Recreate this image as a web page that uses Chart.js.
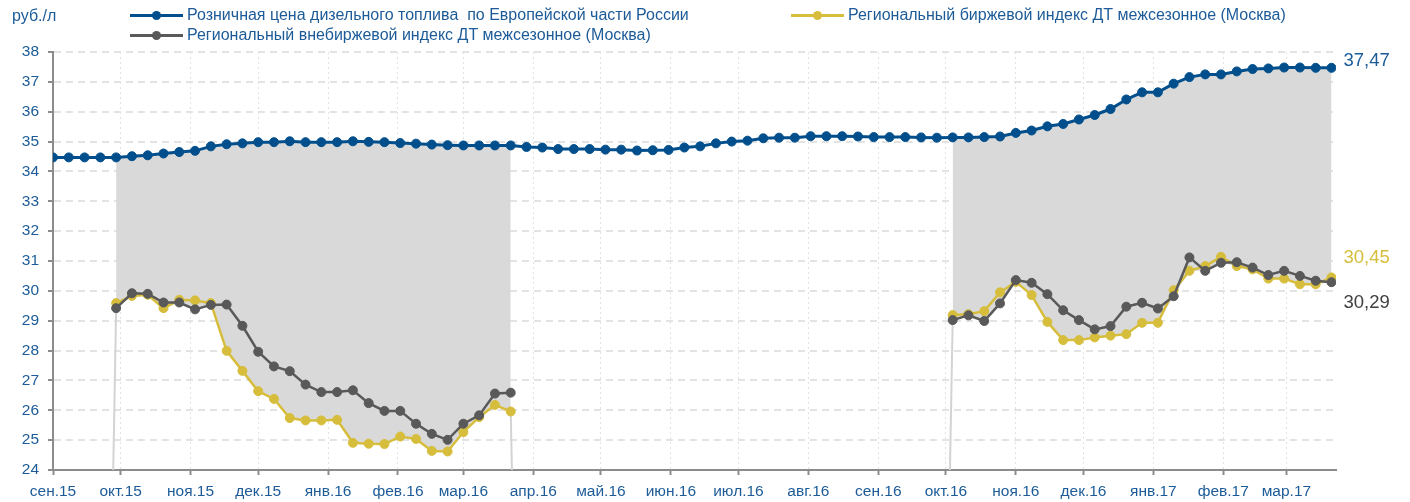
<!DOCTYPE html>
<html>
<head>
<meta charset="utf-8">
<script src="https://cdn.jsdelivr.net/npm/chart.js@4.4.1/dist/chart.umd.min.js"></script>
<style>
  html, body { margin: 0; padding: 0; background: #fff; }
  #wrap { position: relative; width: 1410px; height: 502px; font-family: "Liberation Sans", Arial, sans-serif; }
  #chart { position: absolute; left: 0; top: 0; }
  .unit { position: absolute; left: 12px; top: 7px; font-size: 16px; line-height: 18px; color: #1c5b98; }
  .leg { position: absolute; font-size: 16px; line-height: 18px; color: #1c5b98; white-space: pre; }
  .leg i { position: absolute; left: -57px; top: 7.5px; width: 53px; height: 3px; }
  .leg b { position: absolute; left: -35.5px; top: 4.5px; width: 9px; height: 9px; border-radius: 50%; }
</style>
</head>
<body>
<div id="wrap">
  <canvas id="chart" width="1410" height="502"></canvas>
  <div class="unit">руб./л</div>
  <div class="leg" style="left:187px;top:6px;"><i style="background:#004f8c"></i><b style="background:#004f8c"></b>Розничная цена дизельного топлива  по Европейской части России</div>
  <div class="leg" style="left:848px;top:6px;"><i style="background:#d6be3c"></i><b style="background:#d6be3c"></b>Региональный биржевой индекс ДТ межсезонное (Москва)</div>
  <div class="leg" style="left:187px;top:26px;"><i style="background:#595959"></i><b style="background:#595959"></b>Региональный внебиржевой индекс ДТ межсезонное (Москва)</div>
</div>
<script>
// Weekly observation dates
const weeks = [
  '2015-09-01','2015-09-08','2015-09-15','2015-09-22','2015-09-29','2015-10-06','2015-10-13','2015-10-20','2015-10-27',
  '2015-11-03','2015-11-10','2015-11-17','2015-11-24','2015-12-01','2015-12-08','2015-12-15','2015-12-22','2015-12-29',
  '2016-01-05','2016-01-12','2016-01-19','2016-01-26','2016-02-02','2016-02-09','2016-02-16','2016-02-23',
  '2016-03-01','2016-03-08','2016-03-15','2016-03-22','2016-03-29','2016-04-05','2016-04-12','2016-04-19','2016-04-26',
  '2016-05-03','2016-05-10','2016-05-17','2016-05-24','2016-05-31','2016-06-07','2016-06-14','2016-06-21','2016-06-28',
  '2016-07-05','2016-07-12','2016-07-19','2016-07-26','2016-08-02','2016-08-09','2016-08-16','2016-08-23','2016-08-30',
  '2016-09-06','2016-09-13','2016-09-20','2016-09-27','2016-10-04','2016-10-11','2016-10-18','2016-10-25',
  '2016-11-01','2016-11-08','2016-11-15','2016-11-22','2016-11-29','2016-12-06','2016-12-13','2016-12-20','2016-12-27',
  '2017-01-03','2017-01-10','2017-01-17','2017-01-24','2017-01-31','2017-02-07','2017-02-14','2017-02-21','2017-02-28',
  '2017-03-07','2017-03-14','2017-03-21'
];

// Розничная цена ДТ, Европейская часть России, руб./л
const retail = [
  34.47, 34.47, 34.47, 34.47, 34.47, 34.51, 34.54, 34.60, 34.65,
  34.69, 34.84, 34.91, 34.94, 34.98, 34.98, 35.01, 34.98, 34.98,
  34.98, 35.01, 34.99, 34.98, 34.95, 34.93, 34.90, 34.88,
  34.87, 34.87, 34.87, 34.87, 34.82, 34.80, 34.75, 34.75, 34.75,
  34.73, 34.73, 34.70, 34.71, 34.72, 34.80, 34.84, 34.94, 35.00,
  35.03, 35.11, 35.13, 35.13, 35.18, 35.18, 35.18, 35.17, 35.15,
  35.15, 35.15, 35.14, 35.13, 35.14, 35.14, 35.15, 35.17,
  35.29, 35.37, 35.51, 35.59, 35.74, 35.89, 36.09, 36.41, 36.65,
  36.65, 36.94, 37.16, 37.25, 37.25, 37.35, 37.43, 37.45, 37.48,
  37.48, 37.47, 37.47
];

// Региональный биржевой индекс ДТ межсезонное (Москва)
const exchange = [
  null, null, null, null, 29.59, 29.83, 29.87, 29.42, 29.70,
  29.68, 29.59, 27.99, 27.32, 26.64, 26.38, 25.74, 25.66, 25.66,
  25.68, 24.91, 24.88, 24.87, 25.12, 25.04, 24.64, 24.62,
  25.27, 25.77, 26.18, 25.96, null, null, null, null, null,
  null, null, null, null, null, null, null, null, null,
  null, null, null, null, null, null, null, null, null,
  null, null, null, null, 29.19, 29.22, 29.32, 29.95,
  30.30, 29.86, 28.96, 28.35, 28.35, 28.44, 28.50, 28.55, 28.93,
  28.93, 30.02, 30.67, 30.83, 31.14, 30.83, 30.72, 30.41, 30.41,
  30.22, 30.22, 30.45
];

// Региональный внебиржевой индекс ДТ межсезонное (Москва)
const offExchange = [
  null, null, null, null, 29.42, 29.92, 29.90, 29.61, 29.61,
  29.38, 29.53, 29.54, 28.83, 27.96, 27.47, 27.31, 26.86, 26.61,
  26.61, 26.67, 26.24, 25.98, 25.98, 25.55, 25.21, 25.01,
  25.55, 25.83, 26.56, 26.59, null, null, null, null, null,
  null, null, null, null, null, null, null, null, null,
  null, null, null, null, null, null, null, null, null,
  null, null, null, null, 29.02, 29.18, 28.99, 29.58,
  30.36, 30.27, 29.89, 29.35, 29.02, 28.71, 28.82, 29.47, 29.60,
  29.41, 29.82, 31.12, 30.67, 30.94, 30.96, 30.78, 30.53, 30.67,
  30.50, 30.34, 30.29
];

// Month ticks of the date axis
const tickDates = [
  '2015-09-01','2015-10-01','2015-11-01','2015-12-01','2016-01-01','2016-02-01','2016-03-01',
  '2016-04-01','2016-05-01','2016-06-01','2016-07-01','2016-08-01','2016-09-01','2016-10-01',
  '2016-11-01','2016-12-01','2017-01-01','2017-02-01','2017-03-01'
];
const tickLabels = [
  'сен.15','окт.15','ноя.15','дек.15','янв.16','фев.16','мар.16',
  'апр.16','май.16','июн.16','июл.16','авг.16','сен.16','окт.16',
  'ноя.16','дек.16','янв.17','фев.17','мар.17'
];
const axisStart = '2015-09-01';
const axisEnd = '2017-03-23';

const yTicks = { min: 24, max: 38, step: 1 };

// --- helpers ---
const DAY = 86400000;
function toDay(s) {
  const [y, m, d] = s.split('-').map(Number);
  const [y0, m0, d0] = axisStart.split('-').map(Number);
  return Math.round((Date.UTC(y, m - 1, d) - Date.UTC(y0, m0 - 1, d0)) / DAY);
}
const xs = weeks.map(toDay);
const pts = arr => arr.map((v, i) => ({ x: xs[i], y: v }));

// lower edge of the shaded spread: the cheaper of the two Moscow indices
const spreadBase = exchange.map((v, i) =>
  (v == null || offExchange[i] == null) ? null : Math.min(v, offExchange[i]));

// thin drop lines where the spread series starts/stops (falls to zero in the neighbouring week)
const dropData = [];
spreadBase.forEach((v, i) => {
  if (v != null) return;
  const next = spreadBase[i + 1], prev = spreadBase[i - 1];
  if (next != null && i + 1 < spreadBase.length) {
    dropData.push({ x: xs[i], y: 0 }, { x: xs[i + 1], y: next }, { x: xs[i + 1] + 1, y: null });
  }
  if (prev != null && i > 0) {
    dropData.push({ x: xs[i - 1], y: prev }, { x: xs[i], y: 0 }, { x: xs[i] + 1, y: null });
  }
});

const BLUE = '#004f8c', YELLOW = '#d6be3c', GREY = '#595959';
const TEXT_BLUE = '#1c5b98';
const FONT = '"Liberation Sans", Arial, sans-serif';

const endLabels = {
  id: 'endLabels',
  afterDatasetsDraw(chart) {
    const ctx = chart.ctx;
    chart.data.datasets.forEach((ds, i) => {
      if (!ds.endLabel) return;
      const meta = chart.getDatasetMeta(i);
      const last = meta.data[meta.data.length - 1];
      const val = ds.data[ds.data.length - 1].y;
      ctx.save();
      ctx.font = '18.5px ' + FONT;
      ctx.fillStyle = ds.endLabel.color;
      ctx.textAlign = 'left';
      ctx.textBaseline = 'middle';
      ctx.fillText(val.toFixed(2).replace('.', ','), last.x + 12, last.y + ds.endLabel.dy);
      ctx.restore();
    });
  }
};

new Chart(document.getElementById('chart'), {
  type: 'line',
  data: {
    datasets: [
      {
        label: 'spread',
        data: pts(spreadBase),
        borderWidth: 0,
        pointRadius: 0,
        backgroundColor: '#d9d9d9',
        fill: '+1',
        spanGaps: false,
        order: 5
      },
      {
        label: 'Розничная цена дизельного топлива  по Европейской части России',
        data: pts(retail),
        borderColor: BLUE,
        backgroundColor: BLUE,
        borderWidth: 3,
        pointRadius: 4.5,
        pointBorderWidth: 1,
        pointBackgroundColor: BLUE,
        pointBorderColor: BLUE,
        fill: false,
        order: 0,
        endLabel: { color: '#1c5b98', dy: -7 }
      },
      {
        label: 'Региональный внебиржевой индекс ДТ межсезонное (Москва)',
        data: pts(offExchange),
        borderColor: GREY,
        backgroundColor: GREY,
        borderWidth: 2.5,
        pointRadius: 4.5,
        pointBorderWidth: 1,
        pointBackgroundColor: GREY,
        pointBorderColor: GREY,
        spanGaps: false,
        fill: false,
        order: 1,
        endLabel: { color: '#404040', dy: 21 }
      },
      {
        label: 'Региональный биржевой индекс ДТ межсезонное (Москва)',
        data: pts(exchange),
        borderColor: YELLOW,
        backgroundColor: YELLOW,
        borderWidth: 2.5,
        pointRadius: 4.5,
        pointBorderWidth: 1,
        pointBackgroundColor: YELLOW,
        pointBorderColor: YELLOW,
        spanGaps: false,
        fill: false,
        order: 2,
        endLabel: { color: YELLOW, dy: -19.5 }
      },
      {
        label: 'edges',
        data: dropData,
        borderColor: '#d3d3d3',
        borderWidth: 2,
        pointRadius: 0,
        spanGaps: false,
        fill: false,
        clip: 0,
        order: 4
      }
    ]
  },
  options: {
    responsive: false,
    animation: false,
    layout: { padding: { top: 52, right: 74, left: 0, bottom: 0 } },
    plugins: { legend: { display: false }, tooltip: { enabled: false } },
    elements: { line: { tension: 0 } },
    scales: {
      x: {
        type: 'linear',
        min: toDay(axisStart),
        max: toDay(axisEnd),
        afterBuildTicks: s => { s.ticks = tickDates.map(d => ({ value: toDay(d) })); },
        afterFit: s => { s.height = 32; },
        ticks: {
          autoSkip: false,
          maxRotation: 0,
          padding: 7,
          color: TEXT_BLUE,
          font: { family: FONT, size: 15.5 },
          callback: v => tickLabels[tickDates.map(toDay).indexOf(v)]
        },
        border: { color: '#8c8c8c', width: 2, dash: [2, 3] },
        grid: { color: '#e2e2e2', lineWidth: 1, tickColor: '#8c8c8c', tickLength: 5, tickWidth: 2, tickBorderDash: [] }
      },
      y: {
        min: yTicks.min,
        max: yTicks.max,
        afterFit: s => { s.width = 53; },
        ticks: {
          stepSize: yTicks.step,
          padding: 9,
          color: TEXT_BLUE,
          font: { family: FONT, size: 15.5 }
        },
        border: { color: '#8c8c8c', width: 2, dash: [7, 5] },
        grid: { color: '#e3e3e3', lineWidth: 2, tickColor: '#8c8c8c', tickLength: 5, tickWidth: 2, tickBorderDash: [] }
      }
    }
  },
  plugins: [endLabels]
});
</script>
</body>
</html>
